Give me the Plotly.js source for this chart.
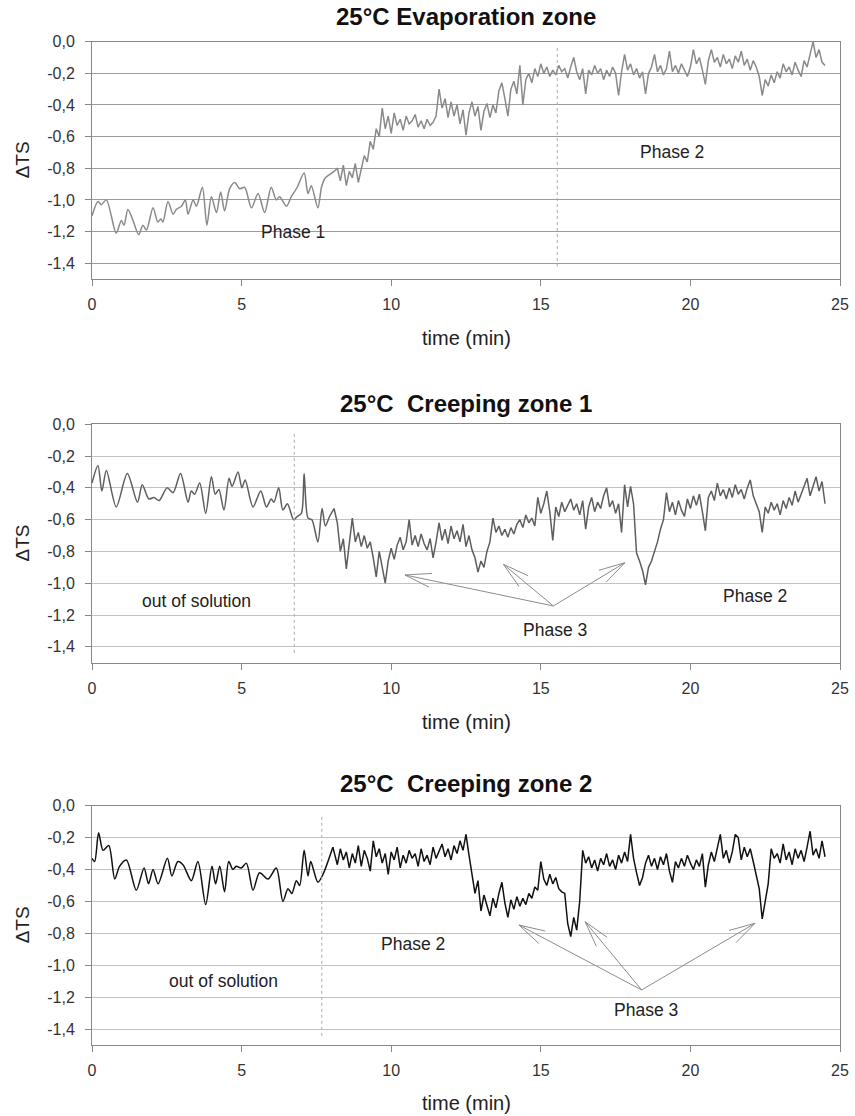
<!DOCTYPE html>
<html><head><meta charset="utf-8">
<script src="https://cdn.plot.ly/plotly-3.0.1.min.js"></script>
<style>html,body{margin:0;padding:0;background:#fff}#chart{width:855px;height:1116px}</style>
</head><body><div id="chart"></div>
<script>
// ---------- tick labels ----------
const yTickVals = [0, -0.2, -0.4, -0.6, -0.8, -1.0, -1.2, -1.4];
const yTickText = ['0,0', '-0,2', '-0,4', '-0,6', '-0,8', '-1,0', '-1,2', '-1,4'];
const xTickVals = [0, 5, 10, 15, 20, 25];
const xTickText = ['0', '5', '10', '15', '20', '25'];
const panelTitles = ['25°C Evaporation zone', '25°C\u00a0\u00a0Creeping zone 1', '25°C\u00a0\u00a0Creeping zone 2'];
const xTitle = 'time (min)';
const yTitle = 'ΔTS';

// ---------- smooth (early) segments ----------
const p1SmoothTime = [0,0.2,0.31,0.48,0.81, 0.98,1.07,1.2,1.37,1.56, 1.7,1.82,2.04,2.2,2.3, 2.37,2.54,2.71,2.82,2.99,
  3.12,3.21,3.38,3.49,3.69, 3.84,3.99,4.16,4.3,4.43, 4.6,4.77,4.94,5.1,5.33, 5.55,5.77,5.99,6.16,6.27,
  6.5,6.66,6.86,7.09,7.22, 7.33,7.55,7.67,7.8,7.94, 8.09];
const p1SmoothVal = [-1.10,-1.01,-1.03,-1.00,-1.21, -1.13,-1.16,-1.06,-1.13,-1.22, -1.16,-1.19,-1.05,-1.14,-1.12, -1.14,-1.01,-1.09,-1.06,-1.04,
  -1.00,-1.09,-1.00,-1.04,-0.92, -1.16,-0.98,-1.08,-0.95,-1.07, -0.93,-0.89,-0.93,-0.92,-1.05, -0.96,-1.08,-0.92,-1.00,-0.98,
  -1.04,-0.98,-0.92,-0.83,-0.96, -0.91,-1.05,-0.92,-0.86,-0.84, -0.82];

const p2SmoothTime = [0,0.2,0.33,0.48,0.81, 1.18,1.52,1.68,1.9,2.07, 2.24,2.51,2.71,2.96,3.21, 3.32,3.43,3.6,3.8,3.99,
  4.12,4.24,4.41,4.58,4.68, 4.88,5.01,5.12,5.38,5.64, 5.83,5.99,6.08,6.24,6.38, 6.53,6.74,6.86,7.0,7.09,
  7.22,7.35,7.55,7.69,7.8, 7.94,8.09];
const p2SmoothVal = [-0.37,-0.26,-0.42,-0.29,-0.52, -0.31,-0.49,-0.38,-0.47,-0.46, -0.48,-0.40,-0.43,-0.31,-0.49, -0.42,-0.44,-0.37,-0.56,-0.33,
  -0.44,-0.41,-0.54,-0.34,-0.39, -0.30,-0.40,-0.35,-0.52,-0.42, -0.52,-0.47,-0.49,-0.40,-0.54, -0.50,-0.60,-0.58,-0.56,-0.31,
  -0.59,-0.60,-0.74,-0.53,-0.64, -0.58,-0.53];

const p3SmoothTime = [0,0.09,0.22,0.37,0.56, 0.76,0.92,1.15,1.48,1.74, 1.89,2.04,2.21,2.52,2.67, 2.87,3.04,3.32,3.54,3.8,
  4.01,4.13,4.27,4.43,4.57, 4.71,4.82,4.99,5.16,5.38, 5.6,5.88,6.16,6.38,6.55, 6.68,6.83,6.94,7.09,7.22,
  7.31,7.55,7.72,8.05];
const p3SmoothVal = [-0.33,-0.35,-0.17,-0.28,-0.25, -0.46,-0.38,-0.34,-0.53,-0.39, -0.49,-0.40,-0.49,-0.33,-0.44, -0.35,-0.37,-0.47,-0.35,-0.62,
  -0.38,-0.49,-0.38,-0.54,-0.35, -0.40,-0.38,-0.39,-0.36,-0.53, -0.42,-0.46,-0.39,-0.60,-0.52, -0.55,-0.47,-0.50,-0.28,-0.44,
  -0.35,-0.48,-0.43,-0.26];

// ---------- noisy (in-solution) segments, sampled every 0.1 min ----------
const noisyTime = [8.2,8.3,8.4,8.5,8.6,8.7,8.8,8.9,
  9.0,9.1,9.2,9.3,9.4,9.5,9.6,9.7,9.8,9.9,
  10.0,10.1,10.2,10.3,10.4,10.5,10.6,10.7,10.8,10.9,
  11.0,11.1,11.2,11.3,11.4,11.5,11.6,11.7,11.8,11.9,
  12.0,12.1,12.2,12.3,12.4,12.5,12.6,12.7,12.8,12.9,
  13.0,13.1,13.2,13.3,13.4,13.5,13.6,13.7,13.8,13.9,
  14.0,14.1,14.2,14.3,14.4,14.5,14.6,14.7,14.8,14.9,
  15.0,15.1,15.2,15.3,15.4,15.5,15.6,15.7,15.8,15.9,
  16.0,16.1,16.2,16.3,16.4,16.5,16.6,16.7,16.8,16.9,
  17.0,17.1,17.2,17.3,17.4,17.5,17.6,17.7,17.8,17.9,
  18.0,18.1,18.2,18.3,18.4,18.5,18.6,18.7,18.8,18.9,
  19.0,19.1,19.2,19.3,19.4,19.5,19.6,19.7,19.8,19.9,
  20.0,20.1,20.2,20.3,20.4,20.5,20.6,20.7,20.8,20.9,
  21.0,21.1,21.2,21.3,21.4,21.5,21.6,21.7,21.8,21.9,
  22.0,22.1,22.2,22.3,22.4,22.5,22.6,22.7,22.8,22.9,
  23.0,23.1,23.2,23.3,23.4,23.5,23.6,23.7,23.8,23.9,
  24.0,24.1,24.2,24.3,24.4,24.5];

const p1NoisyVal = [-0.80,-0.88,-0.78,-0.91,-0.82,-0.86,-0.77,-0.89,
  -0.80,-0.72,-0.76,-0.63,-0.68,-0.55,-0.60,-0.42,-0.55,-0.47,
  -0.58,-0.45,-0.53,-0.49,-0.56,-0.47,-0.52,-0.50,-0.46,-0.54,
  -0.50,-0.55,-0.49,-0.53,-0.51,-0.47,-0.30,-0.42,-0.36,-0.48,
  -0.38,-0.47,-0.40,-0.52,-0.43,-0.59,-0.45,-0.38,-0.47,-0.41,
  -0.56,-0.44,-0.39,-0.48,-0.40,-0.45,-0.31,-0.26,-0.36,-0.47,
  -0.30,-0.25,-0.33,-0.15,-0.40,-0.24,-0.20,-0.26,-0.17,-0.22,
  -0.14,-0.20,-0.16,-0.22,-0.18,-0.21,-0.15,-0.19,-0.17,-0.23,
  -0.16,-0.10,-0.19,-0.24,-0.17,-0.33,-0.18,-0.21,-0.15,-0.20,
  -0.17,-0.24,-0.18,-0.22,-0.16,-0.20,-0.34,-0.19,-0.08,-0.18,
  -0.14,-0.21,-0.17,-0.23,-0.19,-0.33,-0.20,-0.16,-0.08,-0.19,
  -0.15,-0.21,-0.17,-0.06,-0.19,-0.15,-0.20,-0.14,-0.18,-0.22,
  -0.16,-0.05,-0.14,-0.10,-0.18,-0.27,-0.12,-0.05,-0.13,-0.10,
  -0.16,-0.08,-0.14,-0.11,-0.17,-0.09,-0.13,-0.06,-0.15,-0.11,
  -0.18,-0.12,-0.16,-0.22,-0.34,-0.24,-0.28,-0.21,-0.26,-0.19,
  -0.23,-0.14,-0.19,-0.16,-0.21,-0.13,-0.18,-0.22,-0.12,-0.16,
  -0.08,0.00,-0.10,-0.05,-0.13,-0.15];

const p2NoisyVal = [-0.62,-0.80,-0.72,-0.91,-0.76,-0.59,-0.74,-0.68,
  -0.77,-0.70,-0.78,-0.74,-0.84,-0.96,-0.80,-0.90,-1.00,-0.86,
  -0.78,-0.85,-0.76,-0.71,-0.79,-0.74,-0.60,-0.76,-0.70,-0.77,
  -0.69,-0.75,-0.79,-0.72,-0.84,-0.74,-0.62,-0.73,-0.66,-0.75,
  -0.64,-0.72,-0.67,-0.74,-0.63,-0.77,-0.70,-0.79,-0.84,-0.93,
  -0.86,-0.90,-0.80,-0.74,-0.59,-0.68,-0.64,-0.70,-0.66,-0.71,
  -0.65,-0.69,-0.63,-0.60,-0.65,-0.57,-0.62,-0.59,-0.64,-0.46,
  -0.56,-0.50,-0.42,-0.55,-0.73,-0.52,-0.58,-0.49,-0.55,-0.51,
  -0.47,-0.54,-0.50,-0.57,-0.48,-0.66,-0.52,-0.46,-0.55,-0.49,
  -0.53,-0.45,-0.40,-0.52,-0.48,-0.56,-0.50,-0.68,-0.38,-0.52,
  -0.39,-0.50,-0.81,-0.86,-0.92,-1.01,-0.90,-0.86,-0.80,-0.74,
  -0.66,-0.60,-0.43,-0.55,-0.49,-0.57,-0.48,-0.54,-0.58,-0.47,
  -0.53,-0.45,-0.51,-0.44,-0.55,-0.67,-0.46,-0.42,-0.48,-0.37,
  -0.45,-0.41,-0.47,-0.40,-0.46,-0.38,-0.44,-0.41,-0.47,-0.40,
  -0.35,-0.45,-0.50,-0.55,-0.68,-0.52,-0.56,-0.49,-0.54,-0.50,
  -0.57,-0.48,-0.53,-0.46,-0.51,-0.42,-0.49,-0.44,-0.40,-0.34,
  -0.45,-0.39,-0.33,-0.42,-0.36,-0.50];

const p3NoisyVal = [-0.37,-0.27,-0.34,-0.29,-0.39,-0.30,-0.36,-0.25,
  -0.38,-0.28,-0.33,-0.41,-0.22,-0.32,-0.27,-0.36,-0.30,-0.43,
  -0.29,-0.34,-0.26,-0.39,-0.31,-0.36,-0.28,-0.33,-0.30,-0.38,
  -0.27,-0.35,-0.31,-0.37,-0.26,-0.33,-0.29,-0.24,-0.32,-0.27,
  -0.34,-0.25,-0.30,-0.22,-0.28,-0.18,-0.31,-0.42,-0.55,-0.47,
  -0.66,-0.56,-0.62,-0.69,-0.58,-0.64,-0.55,-0.48,-0.61,-0.70,
  -0.59,-0.65,-0.57,-0.63,-0.58,-0.62,-0.55,-0.58,-0.51,-0.53,
  -0.35,-0.46,-0.50,-0.43,-0.49,-0.45,-0.52,-0.54,-0.55,-0.74,
  -0.82,-0.70,-0.78,-0.60,-0.28,-0.36,-0.32,-0.39,-0.34,-0.41,
  -0.33,-0.37,-0.30,-0.38,-0.34,-0.40,-0.31,-0.36,-0.29,-0.35,
  -0.18,-0.33,-0.42,-0.50,-0.45,-0.36,-0.31,-0.38,-0.33,-0.40,
  -0.32,-0.37,-0.30,-0.41,-0.48,-0.35,-0.39,-0.33,-0.38,-0.31,
  -0.36,-0.40,-0.34,-0.38,-0.30,-0.51,-0.37,-0.29,-0.35,-0.27,
  -0.18,-0.33,-0.28,-0.36,-0.29,-0.18,-0.20,-0.34,-0.26,-0.32,
  -0.27,-0.35,-0.44,-0.52,-0.71,-0.60,-0.49,-0.27,-0.33,-0.30,
  -0.36,-0.24,-0.34,-0.29,-0.37,-0.27,-0.33,-0.28,-0.35,-0.26,
  -0.16,-0.31,-0.27,-0.33,-0.22,-0.32];

// ---------- phase boundaries and labels ----------
const boundaryTime = [15.55, 6.76, 7.68];
const boundaryTop = [-0.04, -0.06, -0.07];
const boundaryBottom = [-1.42, -1.44, -1.46];
const labels = [
  [{t:'Phase 1', x:6.72, y:-1.20}, {t:'Phase 2', x:19.37, y:-0.70}],
  [{t:'out of solution', x:3.48, y:-1.11}, {t:'Phase 2', x:22.16, y:-1.08}, {t:'Phase 3', x:15.47, y:-1.295}],
  [{t:'out of solution', x:4.41, y:-1.10}, {t:'Phase 2', x:10.73, y:-0.867}, {t:'Phase 3', x:18.5, y:-1.28}]
];
const arrowTails = [null, [15.42, -1.143], [18.37, -1.155]];
const arrowTips = [[], [[10.46,-0.948],[13.75,-0.881],[17.81,-0.871]], [[14.27,-0.748],[16.48,-0.727],[22.16,-0.737]]];

// ---------- layout geometry (pixels) ----------
const W = 855, H = 1116;
const X0 = 92, X1 = 840;
const panelTop = [41.7, 424.3, 805.7];
const panelBottom = [279, 662.7, 1045];
const titleY = [17, 403, 783];
const xTitleY = [338, 722, 1103];
const yTitleX = 22;
const lineColors = ['#8a8a8a', '#5e5e5e', '#111111'];
const gridColors = ['#9c9c9c', '#c2c2c2', '#c2c2c2'];
const FONT = 'Liberation Sans, Arial, sans-serif';

const traces = [];
const smoothT = [p1SmoothTime, p2SmoothTime, p3SmoothTime];
const smoothV = [p1SmoothVal, p2SmoothVal, p3SmoothVal];
const noisyV = [p1NoisyVal, p2NoisyVal, p3NoisyVal];
const layout = {
  width: W, height: H, margin: {l:0, r:0, t:0, b:0},
  paper_bgcolor: '#fff', plot_bgcolor: '#fff', showlegend: false,
  font: {family: FONT, color: '#333'},
  annotations: [], shapes: []
};

function py2paper(py) { return 1 - py / H; }

for (let i = 0; i < 3; i++) {
  const xr = i === 0 ? 'x' : 'x' + (i + 1);
  const yr = i === 0 ? 'y' : 'y' + (i + 1);
  const xk = i === 0 ? 'xaxis' : 'xaxis' + (i + 1);
  const yk = i === 0 ? 'yaxis' : 'yaxis' + (i + 1);
  const nv = noisyV[i];
  const nt = noisyTime.slice(0, nv.length);
  traces.push({x: smoothT[i], y: smoothV[i], xaxis: xr, yaxis: yr, type: 'scatter', mode: 'lines',
    line: {color: lineColors[i], width: 1.5, shape: 'spline', smoothing: 0.8}, hoverinfo: 'skip'});
  traces.push({x: [smoothT[i][smoothT[i].length-1]].concat(nt), y: [smoothV[i][smoothV[i].length-1]].concat(nv),
    xaxis: xr, yaxis: yr, type: 'scatter', mode: 'lines',
    line: {color: lineColors[i], width: 1.5}, hoverinfo: 'skip'});

  layout[xk] = {domain: [X0 / W, X1 / W], range: [0, 25], anchor: yr,
    tickmode: 'array', tickvals: xTickVals, ticktext: xTickText,
    ticks: 'outside', ticklen: 6, tickcolor: '#888', showline: true, linecolor: '#888', linewidth: 1,
    mirror: true, showgrid: false, zeroline: false, ticklabelstandoff: 5,
    tickfont: {family: FONT, size: 16, color: '#333'}, fixedrange: true};
  layout[yk] = {domain: [py2paper(panelBottom[i]), py2paper(panelTop[i])], range: [-1.5, 0], anchor: xr,
    tickmode: 'array', tickvals: yTickVals, ticktext: yTickText,
    ticks: 'outside', ticklen: 6, tickcolor: '#888', showline: true, linecolor: '#888', linewidth: 1,
    mirror: true, showgrid: true, gridcolor: gridColors[i], gridwidth: 1, zeroline: false,
    ticklabelstandoff: 7, tickfont: {family: FONT, size: 16, color: '#333'}, fixedrange: true};

  // titles
  layout.annotations.push({xref: 'paper', yref: 'paper', x: (X0 + X1) / 2 / W, y: py2paper(titleY[i]),
    xanchor: 'center', yanchor: 'middle', showarrow: false, text: '<b>' + panelTitles[i] + '</b>',
    font: {family: FONT, size: 24, color: '#111'}});
  layout.annotations.push({xref: 'paper', yref: 'paper', x: (X0 + X1) / 2 / W, y: py2paper(xTitleY[i]),
    xanchor: 'center', yanchor: 'middle', showarrow: false, text: xTitle,
    font: {family: FONT, size: 20, color: '#222'}});
  layout.annotations.push({xref: 'paper', yref: 'paper', x: yTitleX / W,
    y: py2paper((panelTop[i] + panelBottom[i]) / 2), xanchor: 'center', yanchor: 'middle', showarrow: false,
    text: yTitle, textangle: -90, font: {family: FONT, size: 19, color: '#222'}});
  // labels
  labels[i].forEach(l => layout.annotations.push({xref: xr, yref: yr, x: l.x, y: l.y, showarrow: false,
    xanchor: 'center', yanchor: 'middle', text: l.t, font: {family: FONT, size: 17.5, color: '#222'}}));
  // phase boundary
  layout.shapes.push({type: 'line', xref: xr, yref: yr, x0: boundaryTime[i], x1: boundaryTime[i],
    y0: boundaryTop[i], y1: boundaryBottom[i], line: {color: '#aaa', width: 1, dash: 'dot'}});
  // arrows
  if (arrowTails[i]) {
    const sx = (X1 - X0) / 25, sy = (panelBottom[i] - panelTop[i]) / 1.5;
    const tail = arrowTails[i];
    const BARB = 27, ANG = 15 * Math.PI / 180;
    arrowTips[i].forEach(tip => {
      layout.shapes.push({type: 'line', xref: xr, yref: yr, x0: tail[0], y0: tail[1], x1: tip[0], y1: tip[1],
        line: {color: '#8c8c8c', width: 1}});
      const dx = (tail[0] - tip[0]) * sx, dy = -(tail[1] - tip[1]) * sy;
      const len = Math.hypot(dx, dy), ux = dx / len, uy = dy / len;
      [-1, 1].forEach(s => {
        const a = s * ANG;
        const bx = ux * Math.cos(a) - uy * Math.sin(a);
        const by = ux * Math.sin(a) + uy * Math.cos(a);
        layout.shapes.push({type: 'line', xref: xr, yref: yr, x0: tip[0], y0: tip[1],
          x1: tip[0] + bx * BARB / sx, y1: tip[1] - by * BARB / sy, line: {color: '#8c8c8c', width: 1}});
      });
    });
  }
}

Plotly.newPlot('chart', traces, layout, {staticPlot: true, displayModeBar: false});
</script>
</body></html>
